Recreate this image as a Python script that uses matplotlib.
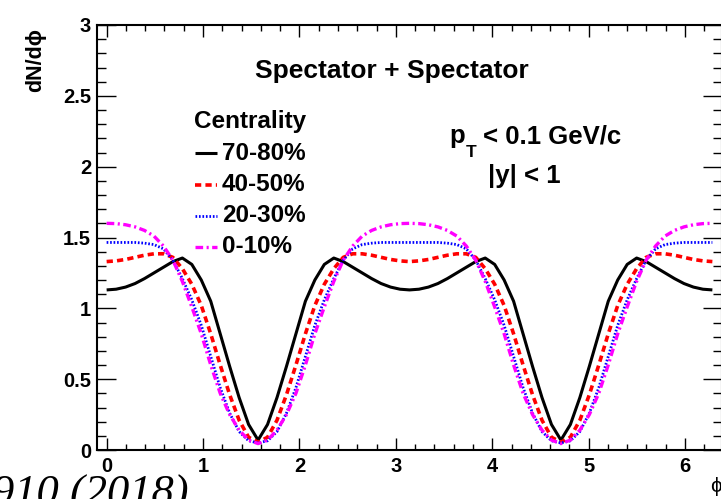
import numpy as np
import matplotlib
matplotlib.use("Agg")
import matplotlib.pyplot as plt
from matplotlib.ticker import MultipleLocator
from matplotlib.lines import Line2D

plt.rcParams["lines.scale_dashes"] = False
SANS = ["Liberation Sans", "DejaVu Sans"]
plt.rcParams["font.family"] = SANS

phi = np.linspace(0.0, 2 * np.pi, 65)

cent_70_80 = [1.13, 1.135, 1.15, 1.175, 1.21, 1.25, 1.29, 1.33, 1.355, 1.31, 1.20, 1.05, 0.82, 0.59, 0.37, 0.18, 0.07,
              0.18, 0.37, 0.59, 0.82, 1.05, 1.20, 1.31, 1.355, 1.33, 1.29, 1.25, 1.21, 1.175, 1.15, 1.135, 1.13,
              1.135, 1.15, 1.175, 1.21, 1.25, 1.29, 1.33, 1.355, 1.31, 1.20, 1.05, 0.82, 0.59, 0.37, 0.18, 0.07,
              0.18, 0.37, 0.59, 0.82, 1.05, 1.20, 1.31, 1.355, 1.33, 1.29, 1.25, 1.21, 1.175, 1.15, 1.135, 1.13]

cent_40_50 = [1.33, 1.335, 1.345, 1.36, 1.375, 1.385, 1.385, 1.36, 1.28, 1.17, 1.02, 0.82, 0.60, 0.39, 0.21, 0.09, 0.055,
              0.09, 0.21, 0.39, 0.60, 0.82, 1.02, 1.17, 1.28, 1.36, 1.385, 1.385, 1.375, 1.36, 1.345, 1.335, 1.33,
              1.335, 1.345, 1.36, 1.375, 1.385, 1.385, 1.36, 1.28, 1.17, 1.02, 0.82, 0.60, 0.39, 0.21, 0.09, 0.055,
              0.09, 0.21, 0.39, 0.60, 0.82, 1.02, 1.17, 1.28, 1.36, 1.385, 1.385, 1.375, 1.36, 1.345, 1.335, 1.33]

cent_20_30 = [1.465, 1.465, 1.465, 1.465, 1.46, 1.45, 1.42, 1.34, 1.21, 1.06, 0.88, 0.66, 0.44, 0.26, 0.13, 0.065, 0.05,
              0.065, 0.13, 0.26, 0.44, 0.66, 0.88, 1.06, 1.21, 1.34, 1.42, 1.45, 1.46, 1.465, 1.465, 1.465, 1.465,
              1.465, 1.465, 1.465, 1.46, 1.45, 1.42, 1.34, 1.21, 1.06, 0.88, 0.66, 0.44, 0.26, 0.13, 0.065, 0.05,
              0.065, 0.13, 0.26, 0.44, 0.66, 0.88, 1.06, 1.21, 1.34, 1.42, 1.45, 1.46, 1.465, 1.465, 1.465, 1.465]

cent_0_10 = [1.60, 1.598, 1.59, 1.575, 1.55, 1.51, 1.44, 1.34, 1.19, 1.01, 0.82, 0.60, 0.40, 0.25, 0.14, 0.07, 0.045,
             0.07, 0.14, 0.25, 0.40, 0.60, 0.82, 1.01, 1.19, 1.34, 1.44, 1.51, 1.55, 1.575, 1.59, 1.598, 1.60,
             1.598, 1.59, 1.575, 1.55, 1.51, 1.44, 1.34, 1.19, 1.01, 0.82, 0.60, 0.40, 0.25, 0.14, 0.07, 0.045,
             0.07, 0.14, 0.25, 0.40, 0.60, 0.82, 1.01, 1.19, 1.34, 1.44, 1.51, 1.55, 1.575, 1.59, 1.598, 1.60]

labels = ["70-80%", "40-50%", "20-30%", "0-10%"]
colors = ["black", "#ff0000", "#0000ff", "#ff00ff"]
series = [cent_70_80, cent_40_50, cent_20_30, cent_0_10]
styles = [dict(lw=2.2, ls="-"),
          dict(lw=2.6, dashes=[4.5, 3.0]),
          dict(lw=2.0, dashes=[1.2, 1.3]),
          dict(lw=2.4, dashes=[5.5, 2.5, 1.5, 2.5])]

# ---- figure ----
W, H = 721, 499
fig = plt.figure(figsize=(W / 100, H / 100), dpi=100)
L, R, T, B = 97, 722, 25, 450
ax = fig.add_axes([L / W, 1 - B / H, (R - L) / W, (B - T) / H])
ax.set_xlim(-0.1, 2 * np.pi + 0.1)
ax.set_ylim(0, 3)

for y, c, st in zip(series, colors, styles):
    ax.plot(phi, y, color=c, solid_capstyle="butt", dash_capstyle="butt", **st)

for s in ax.spines.values():
    s.set_linewidth(1.5)

ax.xaxis.set_major_locator(MultipleLocator(1))
ax.xaxis.set_minor_locator(MultipleLocator(0.2))
ax.yaxis.set_major_locator(MultipleLocator(0.5))
ax.yaxis.set_minor_locator(MultipleLocator(0.1))
ax.tick_params(which="both", direction="in", top=True, right=True)
ax.xaxis.set_tick_params(which="major", length=8.6, width=1.0, pad=5.0)
ax.xaxis.set_tick_params(which="minor", length=4.3, width=1.0)
ax.yaxis.set_tick_params(which="major", length=13.7, width=1.0, pad=4.3)
ax.yaxis.set_tick_params(which="minor", length=6.5, width=1.0)
ax.set_xticks([0, 1, 2, 3, 4, 5, 6])
ax.set_xticklabels(["0", "1", "2", "3", "4", "5", "6"])
ax.set_yticks([0, 0.5, 1, 1.5, 2, 2.5, 3])
ax.set_yticklabels(["0", "0.5", "1", "1.5", "2", "2.5", "3"])
for lab in ax.get_xticklabels() + ax.get_yticklabels():
    lab.set_fontsize(14.5)
    lab.set_fontweight("bold")


def ftext(x, y, s, **kw):
    return fig.text(x / W, 1 - y / H, s, **kw)


ftext(392, 78, "Spectator + Spectator", fontsize=19, fontweight="bold", ha="center", va="baseline")
ftext(194, 128, "Centrality", fontsize=17.5, fontweight="bold", ha="left", va="baseline")
base = [160, 191, 222, 253]
liney = [153, 185, 216, 247]
for lab, c, st, yb, yl in zip(labels, colors, styles, base, liney):
    ftext(222, yb, lab, fontsize=17.5, fontweight="bold", ha="left", va="baseline")
    ln = Line2D([195 / W, 217 / W], [1 - yl / H, 1 - yl / H], transform=fig.transFigure,
                color=c, solid_capstyle="butt", dash_capstyle="butt", **st)
    fig.add_artist(ln)

ftext(449, 143, "p", fontsize=18.5, fontweight="bold", ha="left", va="baseline")
ftext(466, 157, "T", fontsize=12.5, fontweight="bold", ha="left", va="baseline")
ftext(483, 143, "< 0.1 GeV/c", fontsize=18.5, fontweight="bold", ha="left", va="baseline")
ftext(488, 183, "|y| < 1", fontsize=18.5, fontweight="bold", ha="left", va="baseline")

ftext(36, 60, "dN/d\u03d5", fontsize=15.5, fontweight="bold", rotation=90, ha="center", va="center")
ftext(716, 487, "\u03d5", fontsize=15, ha="center", va="center")

ftext(-8, 506, "910 (2018)", fontsize=32, family=["Liberation Serif", "DejaVu Serif"],
      style="italic", ha="left", va="baseline")

fig.savefig("out.png", dpi=100)
